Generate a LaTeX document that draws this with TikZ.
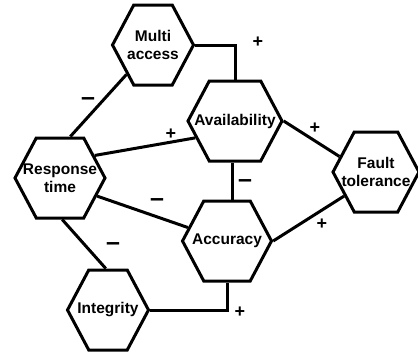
\documentclass[tikz,border=0pt]{standalone}
\usepackage{fontspec}
\setmainfont{Liberation Sans}
\usepackage{tikz}
\usetikzlibrary{positioning}
\usetikzlibrary{shapes.symbols}
\colorlet{hexc}{black}

\tikzset{
  hexnode/.style={signal, signal to=east and west, signal pointer angle=124,
    draw=hexc, line width=3pt, minimum height=80pt, inner xsep=-20pt, inner ysep=0pt,
    align=center, font=\fontsize{15.5}{18}\selectfont\bfseries},
  link/.style={draw=hexc, line width=3pt},
  plus/.style={font=\fontsize{18}{18}\selectfont\bfseries, inner sep=0pt},
  minus/.style={font=\fontsize{25}{25}\selectfont\bfseries, inner sep=0pt}
}

\begin{document}
\begin{tikzpicture}[x=1pt,y=-1pt]
\useasboundingbox (0,0) rectangle (418,356);

\node[hexnode, minimum width=81pt] (multi) at (153,45) {Multi\\access};
\node[hexnode, minimum width=94pt] (avail) at (235,121) {Availability};
\node[hexnode, minimum width=90pt] (resp) at (60,178) {Response\\time};
\node[hexnode, minimum width=86pt] (fault) at (376,172) {Fault\\tolerance};
\node[hexnode, minimum width=89pt] (acc) at (227,241) {Accuracy};
\node[hexnode, minimum width=81pt] (integ) at (108,310) {Integrity};

\draw[link] (multi.east) -| (avail.north);
\draw[link] (resp.76) -- (multi.228);
\draw[link] (resp.33) -- (avail.203);
\draw[link] (resp.334) -- (acc.161);
\draw[link] (resp.273) -- (integ.93);
\draw[link] (integ.east) -| (acc.south);
\draw[link] (avail.266) -- (avail.266 |- acc.north);
\draw[link] (avail.east) -- (fault.157);
\draw[link] (acc.east) -- (fault.217);

\node[plus] (p1) at (258,42) {+};
\node[minus] (m1) at (88,102) {--};
\node[plus] (p2) at (171,134) {+};
\node[minus] (m2) at (157,203) {--};
\node[minus] (m3) at (113,247) {--};
\node[plus] (p3) at (240,312) {+};
\node[minus] (m4) at (245,184) {--};
\node[plus] (p4) at (315,128) {+};
\node[plus] (p5) at (322,224) {+};
\end{tikzpicture}
\end{document}
